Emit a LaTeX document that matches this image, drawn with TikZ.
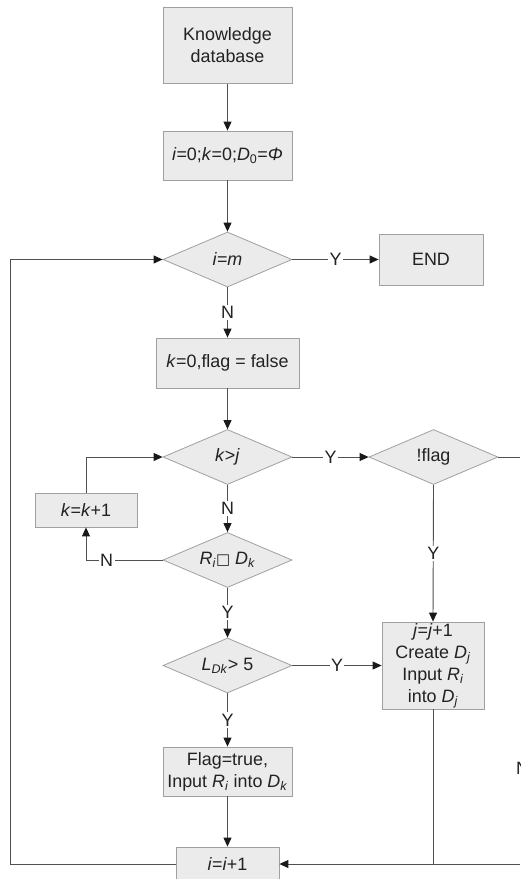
\documentclass[tikz,border=0pt]{standalone}
\usepackage{fontspec}
\setmainfont{Liberation Sans}
\newfontfamily\symfont{DejaVu Sans}
\usetikzlibrary{shapes.geometric,arrows.meta}
\newcommand\sbi[1]{\textsubscript{\textit{#1}}}
\definecolor{boxgray}{HTML}{A0A0A0}
\definecolor{fillgray}{HTML}{EBEBEB}
\definecolor{linegray}{HTML}{505050}
\definecolor{textc}{HTML}{222222}
\begin{document}
\begin{tikzpicture}[x=1pt,y=-1pt,
  font=\fontsize{17.9}{22}\selectfont,
  box/.style={draw=boxgray, fill=fillgray, line width=0.8pt, align=center, inner sep=0pt, text=textc},
  dec/.style={diamond, draw=boxgray, fill=fillgray, line width=0.8pt, aspect=2.35, minimum width=129pt, minimum height=55pt, inner sep=0pt, text=textc},
  conn/.style={draw=linegray, line width=0.9pt},
  arr/.style={conn, -{Triangle[length=9pt,width=8pt,color=black!90]}},
  lbl/.style={fill=white, inner sep=1.5pt, text=textc}]
\useasboundingbox (0,0) rectangle (520,879);
\clip (0,0) rectangle (520,879);
% nodes
\node[box, minimum width=129pt, minimum height=76pt] (kb) at (227.5,45.5) {Knowledge\\database};
\node[box, minimum width=129pt, minimum height=49pt] (init) at (227.5,155.5) {\textit{i}=0;\textit{k}=0;\textit{D}\textsubscript{0}=\textit{Φ}};
\node[dec] (d1) at (227.5,259.5) {\textit{i}=\textit{m}};
\node[box, minimum width=104pt, minimum height=51pt] (endb) at (431,259.5) {END};
\node[box, minimum width=143pt, minimum height=50pt] (kf) at (227.5,363) {\textit{k}=0,flag = false};
\node[dec] (d2) at (227.5,457) {\textit{k}>\textit{j}};
\node[box, minimum width=102pt, minimum height=34pt] (kk) at (86,510) {\textit{k}=\textit{k}+1};
\node[dec] (d3) at (227.5,560) {\textit{R}\sbi{i}{\symfont\fontsize{15}{18}\selectfont □} \textit{D}\sbi{k}};
\node[dec] (fl) at (433.5,457) {!flag};
\node[dec] (d4) at (227.5,665.5) {\textit{L}\sbi{Dk}> 5};
\node[box, minimum width=102pt, minimum height=87pt] (jb) at (433,665.5) {\textit{j}=\textit{j}+1\\Create \textit{D}\sbi{j}\\Input \textit{R}\sbi{i}\\into \textit{D}\sbi{j}};
\node[box, minimum width=129pt, minimum height=49pt] (ft) at (227.5,771.5) {Flag=true,\\Input \textit{R}\sbi{i} into \textit{D}\sbi{k}};
\node[box, minimum width=103pt, minimum height=34pt] (ii) at (227.5,864) {\textit{i}=\textit{i}+1};
\node[anchor=west, inner sep=0pt, text=textc] (nlab) at (516,768) {N};
\coordinate (ra) at (520,457);
\coordinate (rb) at (520,864);
\coordinate (lft) at (10,0);
% connectors
\draw[arr] (kb) -- (init);
\draw[arr] (init) -- (d1);
\draw[arr] (d1.east) -- node[lbl]{Y} (endb.west);
\draw[arr] (d1.south) -- node[lbl]{N} (kf.north);
\draw[arr] (kf) -- (d2);
\draw[arr] (d2.east) -- node[lbl]{Y} (fl.west);
\draw[arr] (d2.south) -- node[lbl]{N} (d3.north);
\draw[arr] (d3.west) -| node[lbl, pos=0.365]{N} (kk.south);
\draw[arr] (kk.north) |- (d2.west);
\draw[arr] (d3.south) -- node[lbl]{Y} (d4.north);
\draw[arr] (d4.east) -- node[lbl]{Y} (jb.west);
\draw[arr] (d4.south) -- node[lbl]{Y} (ft.north);
\draw[arr] (ft) -- (ii);
\draw[arr] (fl.south) -- node[lbl]{Y} (jb.north);
\draw[conn] (fl.east) -- (ra);
\draw[conn] (jb.south) -- (jb.south |- ii.east);
\draw[arr] (rb) -- (ii.east);
\draw[arr] (ii.west) -- (ii.west -| lft) |- (d1.west);
\end{tikzpicture}
\end{document}
